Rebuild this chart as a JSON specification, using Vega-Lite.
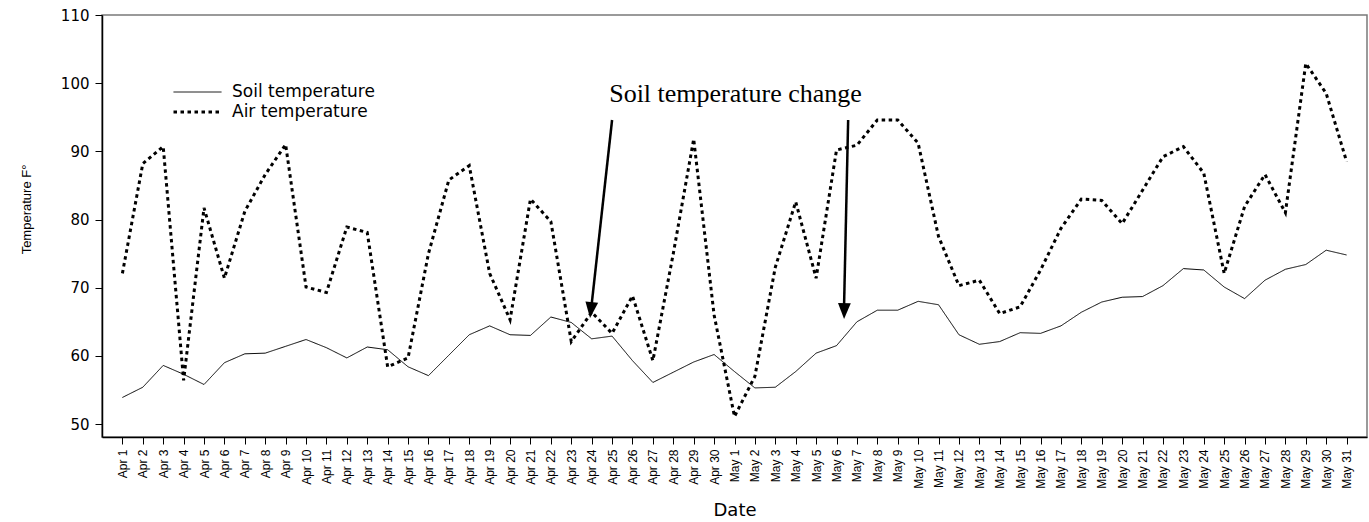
{
  "$schema": "https://vega.github.io/schema/vega-lite/v6.json",
  "width": 1265,
  "height": 422,
  "autosize": {"type": "none"},
  "padding": {"left": 102, "top": 15, "right": 2, "bottom": 85},
  "background": "white",
  "config": {
    "font": "Liberation Sans",
    "view": {"stroke": "#7a7a7a", "strokeWidth": 1.5},
    "axis": {"grid": false, "domainColor": "black", "tickColor": "black", "labelColor": "black", "titleColor": "black", "titleFontWeight": "normal"}
  },
  "datasets": {
    "temps": [
      {"date": "Apr 1", "soil": 53.9, "air": 72.1},
      {"date": "Apr 2", "soil": 55.4, "air": 88.2},
      {"date": "Apr 3", "soil": 58.6, "air": 90.7},
      {"date": "Apr 4", "soil": 57.3, "air": 56.4},
      {"date": "Apr 5", "soil": 55.8, "air": 81.7},
      {"date": "Apr 6", "soil": 59.0, "air": 71.4},
      {"date": "Apr 7", "soil": 60.3, "air": 81.2},
      {"date": "Apr 8", "soil": 60.4, "air": 86.6},
      {"date": "Apr 9", "soil": 61.4, "air": 91.0},
      {"date": "Apr 10", "soil": 62.4, "air": 70.1},
      {"date": "Apr 11", "soil": 61.2, "air": 69.3},
      {"date": "Apr 12", "soil": 59.7, "air": 78.9},
      {"date": "Apr 13", "soil": 61.3, "air": 78.1},
      {"date": "Apr 14", "soil": 60.9, "air": 58.4},
      {"date": "Apr 15", "soil": 58.4, "air": 59.7},
      {"date": "Apr 16", "soil": 57.1, "air": 75.0},
      {"date": "Apr 17", "soil": 60.1, "air": 85.8},
      {"date": "Apr 18", "soil": 63.1, "air": 87.9},
      {"date": "Apr 19", "soil": 64.4, "air": 72.1},
      {"date": "Apr 20", "soil": 63.1, "air": 65.3},
      {"date": "Apr 21", "soil": 63.0, "air": 83.0},
      {"date": "Apr 22", "soil": 65.7, "air": 79.7},
      {"date": "Apr 23", "soil": 64.9, "air": 62.1},
      {"date": "Apr 24", "soil": 62.5, "air": 66.4},
      {"date": "Apr 25", "soil": 62.9, "air": 63.3},
      {"date": "Apr 26", "soil": 59.3, "air": 68.8},
      {"date": "Apr 27", "soil": 56.1, "air": 59.3},
      {"date": "Apr 28", "soil": 57.6, "air": 75.0},
      {"date": "Apr 29", "soil": 59.1, "air": 91.8},
      {"date": "Apr 30", "soil": 60.2, "air": 66.0},
      {"date": "May 1", "soil": 57.7, "air": 51.1},
      {"date": "May 2", "soil": 55.3, "air": 57.0},
      {"date": "May 3", "soil": 55.4, "air": 73.0},
      {"date": "May 4", "soil": 57.7, "air": 82.6},
      {"date": "May 5", "soil": 60.4, "air": 71.4},
      {"date": "May 6", "soil": 61.5, "air": 90.2},
      {"date": "May 7", "soil": 65.0, "air": 90.9},
      {"date": "May 8", "soil": 66.7, "air": 94.6},
      {"date": "May 9", "soil": 66.7, "air": 94.6},
      {"date": "May 10", "soil": 68.0, "air": 91.2},
      {"date": "May 11", "soil": 67.5, "air": 77.5},
      {"date": "May 12", "soil": 63.1, "air": 70.3},
      {"date": "May 13", "soil": 61.7, "air": 71.1},
      {"date": "May 14", "soil": 62.1, "air": 66.2},
      {"date": "May 15", "soil": 63.4, "air": 67.2},
      {"date": "May 16", "soil": 63.3, "air": 72.6},
      {"date": "May 17", "soil": 64.4, "air": 78.7},
      {"date": "May 18", "soil": 66.4, "air": 83.0},
      {"date": "May 19", "soil": 67.9, "air": 82.8},
      {"date": "May 20", "soil": 68.6, "air": 79.4},
      {"date": "May 21", "soil": 68.7, "air": 84.3},
      {"date": "May 22", "soil": 70.3, "air": 89.2},
      {"date": "May 23", "soil": 72.8, "air": 90.7},
      {"date": "May 24", "soil": 72.6, "air": 86.8},
      {"date": "May 25", "soil": 70.1, "air": 72.1},
      {"date": "May 26", "soil": 68.4, "air": 81.9},
      {"date": "May 27", "soil": 71.1, "air": 86.6},
      {"date": "May 28", "soil": 72.7, "air": 81.0},
      {"date": "May 29", "soil": 73.4, "air": 102.9},
      {"date": "May 30", "soil": 75.5, "air": 98.5},
      {"date": "May 31", "soil": 74.8, "air": 88.5}
    ],
    "arrows": [
      {"id": 1, "x1": 24.0, "y1": 94.6, "x2": 22.99, "y2": 67.3, "tipx": 22.92, "tipy": 65.55},
      {"id": 2, "x1": 35.57, "y1": 94.6, "x2": 35.37, "y2": 67.3, "tipx": 35.37, "tipy": 65.4}
    ],
    "notes": [
      {"note": "Soil temperature change", "x": 30.05, "y": 97.3}
    ]
  },
  "resolve": {"scale": {"x": "independent", "y": "independent"}, "axis": {"x": "independent", "y": "independent"}},
  "layer": [
    {
      "data": {"name": "temps"},
      "transform": [{"fold": ["soil", "air"], "as": ["series", "temp"]}],
      "mark": {"type": "line", "color": "black", "strokeCap": "butt"},
      "encoding": {
        "x": {
          "field": "date", "type": "nominal", "sort": null,
          "scale": {"type": "point", "padding": 1},
          "axis": {"title": "Date", "labelAngle": -90, "labelFont": "Liberation Sans", "labelFontSize": 12, "labelPadding": 5, "tickSize": 7, "domainWidth": 1.5, "labelOverlap": false, "titleFont": "DejaVu Sans", "titleFontSize": 18, "titlePadding": 13}
        },
        "y": {
          "field": "temp", "type": "quantitative",
          "scale": {"domain": [48.1, 110], "nice": false, "zero": false},
          "axis": {"title": "Temperature F°", "values": [50, 60, 70, 80, 90, 100, 110], "labelFont": "DejaVu Sans", "labelFontSize": 15, "labelPadding": 6, "tickSize": 7, "domainWidth": 1.5, "titleFont": "Liberation Sans", "titleFontSize": 13, "titleX": -72, "titleY": 194, "titleBaseline": "alphabetic"}
        },
        "strokeDash": {
          "field": "series", "type": "nominal",
          "scale": {"domain": ["soil", "air"], "range": [[1, 0], [3.5, 3.5]]},
          "legend": {"orient": "none", "legendX": 70, "legendY": 68, "title": null, "symbolType": "M-1,0L4.647,0", "symbolSize": 289, "symbolStrokeColor": "black", "symbolFillColor": "transparent", "labelFont": "DejaVu Sans", "labelFontSize": 17, "labelColor": "black", "labelOffset": 40, "rowPadding": 2, "labelExpr": "datum.label == 'soil' ? 'Soil temperature' : 'Air temperature'"}
        },
        "strokeWidth": {
          "field": "series", "type": "nominal",
          "scale": {"domain": ["soil", "air"], "range": [1, 3]},
          "legend": {"orient": "none", "legendX": 70, "legendY": 68, "title": null, "symbolType": "M-1,0L4.647,0", "symbolSize": 289, "symbolStrokeColor": "black", "symbolFillColor": "transparent", "labelFont": "DejaVu Sans", "labelFontSize": 17, "labelColor": "black", "labelOffset": 40, "rowPadding": 2, "labelExpr": "datum.label == 'soil' ? 'Soil temperature' : 'Air temperature'"}
        }
      }
    },
    {
      "data": {"name": "arrows"},
      "layer": [
        {
          "mark": {"type": "rule", "color": "black", "strokeWidth": 2.5},
          "encoding": {
            "x": {"field": "x1", "type": "quantitative", "scale": {"domain": [-1, 61], "nice": false, "zero": false}, "axis": null},
            "y": {"field": "y1", "type": "quantitative", "scale": {"domain": [48.1, 110], "nice": false, "zero": false}, "axis": null},
            "x2": {"field": "x2"},
            "y2": {"field": "y2"}
          }
        },
        {
          "transform": [{"filter": "datum.id == 1"}],
          "mark": {"type": "point", "shape": "M0,0L-0.4,-1L0.4,-1Z", "filled": true, "color": "black", "opacity": 1, "size": 1024, "angle": 6.3},
          "encoding": {
            "x": {"field": "tipx", "type": "quantitative", "axis": null},
            "y": {"field": "tipy", "type": "quantitative", "axis": null}
          }
        },
        {
          "transform": [{"filter": "datum.id == 2"}],
          "mark": {"type": "point", "shape": "M0,0L-0.4,-1L0.4,-1Z", "filled": true, "color": "black", "opacity": 1, "size": 1024, "angle": 1.2},
          "encoding": {
            "x": {"field": "tipx", "type": "quantitative", "axis": null},
            "y": {"field": "tipy", "type": "quantitative", "axis": null}
          }
        }
      ]
    },
    {
      "data": {"name": "notes"},
      "mark": {"type": "text", "font": "Liberation Serif", "fontSize": 26, "align": "center", "baseline": "alphabetic", "color": "black"},
      "encoding": {
        "x": {"field": "x", "type": "quantitative", "scale": {"domain": [-1, 61], "nice": false, "zero": false}, "axis": null},
        "y": {"field": "y", "type": "quantitative", "scale": {"domain": [48.1, 110], "nice": false, "zero": false}, "axis": null},
        "text": {"field": "note"}
      }
    }
  ]
}
